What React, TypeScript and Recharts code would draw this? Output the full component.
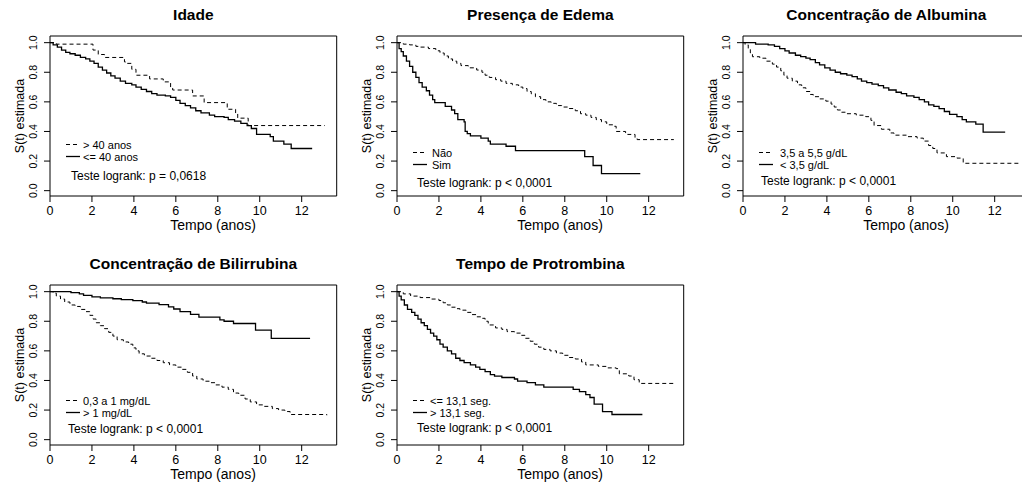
import React from 'react';
import { LineChart, Line, XAxis, YAxis, ReferenceArea } from 'recharts';

// ---------- data (time in years, estimated survival) ----------
const xTicks = [0, 2, 4, 6, 8, 10, 12];
const yTicks = [0, 0.2, 0.4, 0.6, 0.8, 1.0];

const panelTitles = [
  'Idade',
  'Presença de Edema',
  'Concentração de Albumina',
  'Concentração de Bilirrubina',
  'Tempo de Protrombina',
];

const legendIdade = ['> 40 anos', '<= 40 anos'];
const legendEdema = ['Não', 'Sim'];
const legendAlbumina = ['3,5 a 5,5 g/dL', '< 3,5 g/dL'];
const legendBilirrubina = ['0,3 a 1 mg/dL', '> 1 mg/dL'];
const legendProtrombina = ['<= 13,1 seg.', '> 13,1 seg.'];

const logrankTexts = [
  'Teste logrank: p = 0,0618',
  'Teste logrank: p < 0,0001',
  'Teste logrank: p < 0,0001',
  'Teste logrank: p < 0,0001',
  'Teste logrank: p < 0,0001',
];

const idadeMais40 = [[0,1],[0.3,0.99],[2.05,0.95],[2.3,0.92],[2.6,0.9],[3.55,0.87],[3.6,0.86],[3.9,0.82],[4.1,0.78],[4.75,0.755],[5.4,0.735],[5.75,0.7],[5.85,0.68],[6.8,0.64],[7.35,0.595],[8.45,0.55],[8.85,0.52],[8.95,0.49],[9.45,0.44],[13.1,0.44]];
const idadeAte40 = [[0,1],[0.15,0.985],[0.35,0.97],[0.55,0.95],[0.75,0.935],[0.95,0.925],[1.2,0.915],[1.45,0.9],[1.7,0.89],[1.9,0.875],[2.1,0.86],[2.3,0.835],[2.5,0.815],[2.7,0.795],[2.9,0.775],[3.1,0.76],[3.35,0.74],[3.6,0.725],[3.9,0.715],[4.1,0.7],[4.35,0.685],[4.6,0.67],[4.85,0.655],[5.1,0.645],[5.5,0.64],[5.75,0.63],[6.0,0.61],[6.2,0.59],[6.45,0.575],[6.7,0.56],[6.95,0.54],[7.2,0.525],[7.6,0.51],[7.85,0.5],[8.3,0.495],[8.5,0.48],[8.8,0.47],[9.1,0.455],[9.4,0.44],[9.6,0.42],[9.85,0.38],[10.5,0.365],[10.65,0.335],[11.15,0.315],[11.5,0.285],[12.5,0.285]];

const edemaNao = [[0,1],[0.3,0.99],[0.6,0.985],[0.9,0.975],[1.1,0.97],[1.5,0.96],[1.85,0.945],[2.05,0.93],[2.25,0.91],[2.45,0.89],[2.65,0.875],[2.85,0.86],[3.05,0.845],[3.4,0.83],[3.8,0.815],[4.05,0.8],[4.2,0.78],[4.4,0.765],[4.7,0.75],[4.95,0.74],[5.2,0.725],[5.5,0.715],[5.8,0.7],[6.0,0.69],[6.2,0.67],[6.4,0.655],[6.6,0.635],[6.85,0.615],[7.1,0.6],[7.35,0.59],[7.6,0.575],[7.85,0.565],[8.2,0.555],[8.5,0.54],[8.75,0.52],[9.0,0.51],[9.25,0.495],[9.5,0.48],[9.75,0.465],[10.0,0.445],[10.3,0.435],[10.45,0.4],[10.9,0.39],[11.0,0.38],[11.35,0.355],[11.45,0.345],[13.2,0.345]];
const edemaSim = [[0,1],[0.1,0.96],[0.2,0.94],[0.3,0.91],[0.45,0.875],[0.6,0.84],[0.75,0.8],[0.9,0.765],[1.05,0.73],[1.2,0.7],[1.4,0.675],[1.55,0.645],[1.7,0.615],[1.8,0.595],[2.3,0.57],[2.6,0.545],[2.75,0.52],[2.9,0.48],[3.2,0.465],[3.25,0.4],[3.35,0.385],[3.5,0.37],[4.0,0.355],[4.35,0.335],[4.45,0.315],[5.2,0.3],[5.65,0.27],[8.95,0.23],[9.35,0.17],[9.75,0.115],[11.6,0.115]];

const albuminaNormal = [[0,1],[0.1,0.985],[0.25,0.96],[0.35,0.93],[0.45,0.905],[0.8,0.895],[1.1,0.875],[1.4,0.855],[1.6,0.835],[1.8,0.81],[1.95,0.78],[2.1,0.76],[2.35,0.74],[2.6,0.715],[2.8,0.695],[3.0,0.67],[3.2,0.65],[3.35,0.635],[3.65,0.62],[3.95,0.605],[4.2,0.585],[4.35,0.565],[4.5,0.545],[4.7,0.53],[4.95,0.52],[5.4,0.51],[5.85,0.5],[6.1,0.475],[6.25,0.44],[6.6,0.415],[7.0,0.39],[7.2,0.375],[7.8,0.365],[8.3,0.355],[8.6,0.335],[8.85,0.305],[9.05,0.285],[9.25,0.255],[9.7,0.23],[10.2,0.22],[10.5,0.185],[13.2,0.185]];
const albuminaBaixa = [[0,1],[0.6,0.99],[1.2,0.985],[1.5,0.975],[1.75,0.96],[2.0,0.945],[2.2,0.93],[2.5,0.915],[2.75,0.905],[3.0,0.895],[3.2,0.885],[3.45,0.865],[3.65,0.85],[3.9,0.83],[4.15,0.815],[4.4,0.8],[4.65,0.79],[4.95,0.78],[5.2,0.77],[5.45,0.755],[5.65,0.74],[5.9,0.73],[6.15,0.72],[6.45,0.71],[6.7,0.695],[6.95,0.68],[7.3,0.665],[7.55,0.655],[7.8,0.64],[8.15,0.63],[8.4,0.615],[8.65,0.6],[8.85,0.58],[9.1,0.57],[9.35,0.555],[9.6,0.535],[9.85,0.515],[10.2,0.5],[10.45,0.48],[10.65,0.465],[11.1,0.45],[11.45,0.395],[12.5,0.395]];

const bilirrubinaNormal = [[0,1],[0.15,0.99],[0.3,0.97],[0.5,0.95],[0.7,0.93],[0.95,0.91],[1.2,0.9],[1.45,0.88],[1.7,0.865],[1.9,0.84],[2.05,0.815],[2.2,0.79],[2.4,0.77],[2.6,0.75],[2.8,0.725],[3.0,0.7],[3.2,0.675],[3.5,0.66],[3.75,0.645],[3.95,0.62],[4.1,0.6],[4.25,0.58],[4.5,0.565],[4.8,0.55],[5.1,0.535],[5.4,0.52],[5.7,0.505],[6.0,0.49],[6.3,0.475],[6.55,0.455],[6.8,0.43],[7.0,0.41],[7.3,0.395],[7.6,0.385],[7.9,0.37],[8.2,0.355],[8.5,0.34],[8.75,0.315],[9.0,0.3],[9.3,0.275],[9.55,0.255],[9.85,0.235],[10.2,0.225],[10.6,0.21],[10.9,0.2],[11.2,0.19],[11.45,0.17],[13.2,0.165]];
const bilirrubinaAlta = [[0,1],[1.0,0.993],[1.4,0.985],[1.6,0.975],[2.0,0.965],[2.4,0.958],[3.0,0.952],[3.4,0.946],[3.95,0.94],[4.4,0.93],[4.6,0.922],[5.2,0.912],[5.65,0.897],[5.9,0.883],[6.2,0.865],[6.7,0.847],[7.1,0.828],[8.1,0.81],[8.3,0.8],[8.75,0.785],[9.8,0.74],[10.55,0.685],[12.4,0.685]];

const protrombinaNormal = [[0,1],[0.3,0.985],[0.65,0.97],[1.1,0.96],[1.6,0.95],[2.0,0.94],[2.2,0.925],[2.4,0.91],[2.6,0.895],[2.8,0.885],[3.0,0.875],[3.3,0.86],[3.55,0.845],[3.8,0.83],[4.0,0.82],[4.2,0.8],[4.35,0.775],[4.7,0.755],[5.0,0.745],[5.25,0.73],[5.6,0.72],[5.9,0.705],[6.1,0.685],[6.35,0.665],[6.55,0.645],[6.75,0.625],[7.0,0.61],[7.3,0.6],[7.6,0.585],[7.9,0.57],[8.2,0.555],[8.5,0.545],[8.8,0.525],[9.0,0.505],[9.6,0.495],[10.0,0.485],[10.45,0.48],[10.6,0.445],[11.05,0.43],[11.3,0.405],[11.55,0.38],[13.2,0.375]];
const protrombinaAlta = [[0,1],[0.1,0.97],[0.2,0.945],[0.35,0.91],[0.5,0.88],[0.7,0.86],[0.85,0.84],[1.0,0.815],[1.15,0.79],[1.3,0.77],[1.45,0.745],[1.6,0.72],[1.75,0.7],[1.9,0.675],[2.05,0.645],[2.2,0.625],[2.4,0.6],[2.6,0.58],[2.8,0.55],[3.0,0.535],[3.2,0.52],[3.5,0.505],[3.75,0.49],[3.95,0.475],[4.2,0.46],[4.45,0.44],[4.65,0.43],[5.0,0.42],[5.6,0.41],[5.75,0.395],[6.2,0.385],[6.6,0.37],[7.0,0.355],[8.4,0.34],[8.7,0.325],[9.0,0.305],[9.2,0.285],[9.4,0.24],[9.8,0.19],[10.25,0.17],[11.7,0.17]];

// ---------- layout ----------
const FONT = '"Liberation Sans", Arial, Helvetica, sans-serif';
const W = 340;
const H = 245;
const BOX_L = 50;
const BOX_T = 36;
const BOX_W = 286.7;
const BOX_H = 160;
const X_MAX = 13.67;
const Y_MIN = -0.036;
const Y_MAX = 1.045;

const toPts = (arr: number[][]) => arr.map(([t, s]) => ({ t, s }));

const XTick = (props: any) => {
  const { x, y, payload } = props;
  return (
    <text x={x} y={y + 11} textAnchor="middle" fontSize={12.5} fontFamily={FONT} fill="#000">
      {payload.value}
    </text>
  );
};

const YTick = (props: any) => {
  const { x, y, payload } = props;
  const bx = x - 5;
  return (
    <text
      x={bx}
      y={y}
      transform={`rotate(-90 ${bx} ${y})`}
      textAnchor="middle"
      fontSize={10.5}
      fontFamily={FONT}
      fill="#000"
    >
      {Number(payload.value).toFixed(1)}
    </text>
  );
};

type PanelProps = {
  left: number;
  top: number;
  title: string;
  dashed: number[][];
  solid: number[][];
  legend: string[];
  logrank: string;
  legY: number;
  legTextX: number;
  pX: number;
  pY: number;
};

const Panel = ({ left, top, title, dashed, solid, legend, logrank, legY, legTextX, pX, pY }: PanelProps) => {
  const ox = BOX_L;
  const oy = BOX_T;
  const r1 = oy + legY - 1.5;
  const r2 = oy + legY + 10.5;
  return (
    <div style={{ position: 'absolute', left, top, width: W, height: H }}>
      <LineChart
        width={W}
        height={H}
        margin={{ top: BOX_T, right: W - BOX_L - BOX_W, bottom: H - BOX_T - BOX_H - 30, left: BOX_L - 40 }}
      >
        <XAxis
          type="number"
          dataKey="t"
          domain={[0, X_MAX]}
          ticks={xTicks}
          interval={0}
          allowDataOverflow
          axisLine={false}
          tickSize={6}
          tickLine={{ stroke: '#000' }}
          tick={<XTick />}
          height={30}
        />
        <YAxis
          type="number"
          dataKey="s"
          domain={[Y_MIN, Y_MAX]}
          ticks={yTicks}
          interval={0}
          allowDataOverflow
          axisLine={false}
          tickSize={6}
          tickLine={{ stroke: '#000' }}
          tick={<YTick />}
          width={40}
        />
        <ReferenceArea
          x1={0}
          x2={X_MAX}
          y1={Y_MIN}
          y2={Y_MAX}
          fill="none"
          fillOpacity={0}
          stroke="#000"
          strokeWidth={1}
          ifOverflow="visible"
        />
        <Line
          data={toPts(dashed)}
          dataKey="s"
          type="stepAfter"
          stroke="#000"
          strokeWidth={1}
          strokeDasharray="4 3"
          dot={false}
          activeDot={false}
          isAnimationActive={false}
        />
        <Line
          data={toPts(solid)}
          dataKey="s"
          type="stepAfter"
          stroke="#000"
          strokeWidth={1.3}
          dot={false}
          activeDot={false}
          isAnimationActive={false}
        />
      </LineChart>
      <svg
        width={W}
        height={H}
        style={{ position: 'absolute', left: 0, top: 0, pointerEvents: 'none' }}
        fontFamily={FONT}
      >
        <text x={ox + BOX_W / 2} y={oy - 16} textAnchor="middle" fontSize={15.5} fontWeight="bold" fill="#000">
          {title}
        </text>
        <text x={ox + 163} y={230} textAnchor="middle" fontSize={14} fill="#000">
          Tempo (anos)
        </text>
        <text
          x={24}
          y={oy + BOX_H / 2}
          transform={`rotate(-90 24 ${oy + BOX_H / 2})`}
          textAnchor="middle"
          fontSize={12.5}
          fill="#000"
        >
          S(t) estimada
        </text>
        <line x1={ox + 16} x2={ox + 30} y1={r1} y2={r1} stroke="#000" strokeWidth={1} strokeDasharray="4 3" />
        <text x={ox + legTextX} y={r1 + 4} fontSize={11} fill="#000">
          {legend[0]}
        </text>
        <line x1={ox + 16} x2={ox + 30} y1={r2} y2={r2} stroke="#000" strokeWidth={1.3} />
        <text x={ox + legTextX} y={r2 + 4} fontSize={11} fill="#000">
          {legend[1]}
        </text>
        <text x={ox + pX} y={oy + pY} fontSize={12} fill="#000">
          {logrank}
        </text>
      </svg>
    </div>
  );
}

export default function App() {
  return (
    <div
      style={{
        position: 'absolute',
        left: 0,
        top: 0,
        width: 1022,
        height: 485,
        overflow: 'hidden',
        background: '#fff',
      }}
    >
      <Panel left={0} top={0} title={panelTitles[0]} dashed={idadeMais40} solid={idadeAte40} legend={legendIdade} logrank={logrankTexts[0]} legY={110} legTextX={33} pX={21} pY={144} />
      <Panel left={347} top={0} title={panelTitles[1]} dashed={edemaNao} solid={edemaSim} legend={legendEdema} logrank={logrankTexts[1]} legY={118} legTextX={35} pX={20} pY={151} />
      <Panel left={692.7} top={0} title={panelTitles[2]} dashed={albuminaNormal} solid={albuminaBaixa} legend={legendAlbumina} logrank={logrankTexts[2]} legY={118} legTextX={37} pX={18} pY={149} />
      <Panel left={0} top={249} title={panelTitles[3]} dashed={bilirrubinaNormal} solid={bilirrubinaAlta} legend={legendBilirrubina} logrank={logrankTexts[3]} legY={117} legTextX={33} pX={18} pY={148} />
      <Panel left={347} top={249} title={panelTitles[4]} dashed={protrombinaNormal} solid={protrombinaAlta} legend={legendProtrombina} logrank={logrankTexts[4]} legY={117} legTextX={33} pX={20} pY={147} />
    </div>
  );
}
